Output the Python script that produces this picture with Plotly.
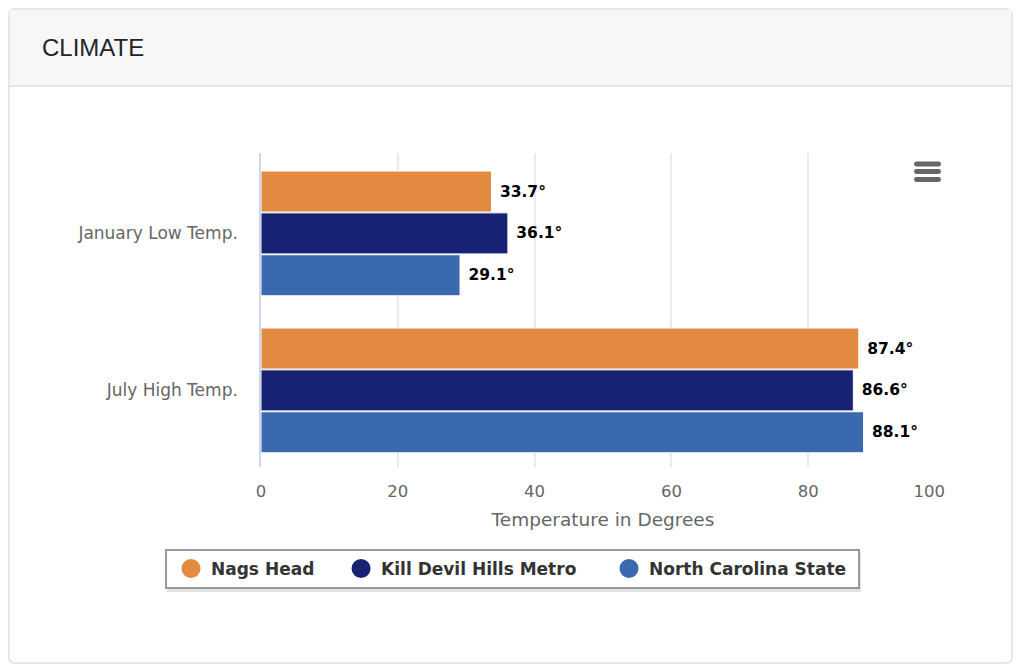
import plotly.graph_objects as go

#page has 8px body margin, so the figure is 1016x663 inside the 1024x671 window
PAGE_W = 1024
PAGE_H = 671
OFFSET = 8

categories = ["January Low Temp.", "July High Temp."]
nags_head = [33.7, 87.4]
kill_devil = [36.1, 86.6]
nc_state = [29.1, 88.1]
series_names = ["Nags Head", "Kill Devil Hills Metro", "North Carolina State"]
series_colors = ["#e28a40", "#172274", "#3b69b0"]
x_ticks = [0, 20, 40, 60, 80, 100]
#last label sits left of its gridline in the original
x_tick_text = ["0", "20", "40", "60", "80", "100" + "\u00a0" * 6]

FONT = "DejaVu Sans"
NBSP = "\u00a0"


#page pixels -> paper coords of the plot area
L, R, T, B = 261, 945, 153, 467
def px_x(v):
    return (v - L) / (R - L)
def px_y(v):
    return (B - v) / (B - T)


def box(x0, y0, x1, y1, **kw):
    return dict(type="rect", xref="paper", yref="paper", layer="below",
                x0=px_x(x0), x1=px_x(x1), y0=px_y(y0), y1=px_y(y1), **kw)


def rounded(x0, y0, x1, y1, r):
    a, b, c, d = px_x(x0), px_x(x1), px_y(y0), px_y(y1)
    rx = r / (R - L)
    ry = r / (B - T)
    return (f"M {a+rx} {c} L {b-rx} {c} Q {b} {c} {b} {c-ry} L {b} {d+ry} Q {b} {d} {b-rx} {d} "
            f"L {a+rx} {d} Q {a} {d} {a} {d+ry} L {a} {c-ry} Q {a} {c} {a+rx} {c} Z")


fig = go.Figure()

#bars, legend comes from the dummy traces below so it gets circles
for name, vals, col in zip(series_names, [nags_head, kill_devil, nc_state], series_colors):
    fig.add_trace(go.Bar(
        y=categories, x=vals, name=name, orientation="h",
        marker=dict(color=col, line=dict(color="white", width=1)),
        text=[f"{NBSP}{v}°" for v in vals], textposition="outside",
        textfont=dict(family=FONT, size=15.5, color="black", weight="bold"),
        cliponaxis=False, showlegend=False,
    ))

legend_pad = [3, 4, 1]
for name, col, pad in zip(series_names, series_colors, legend_pad):
    fig.add_trace(go.Scatter(
        x=[None], y=[None], mode="markers", name=name + NBSP * pad,
        marker=dict(color=col, size=16, symbol="circle", line=dict(color=col, width=3)),
    ))

shapes = [
    dict(type="path", path=rounded(9, 9, 1012, 663, 6), xref="paper", yref="paper",
         layer="below", fillcolor="white", line=dict(color="#dfdfdf", width=1.5)),
    box(10, 10, 1011, 86, fillcolor="#f7f7f7", line=dict(width=0)),
    dict(type="line", xref="paper", yref="paper", layer="below", x0=px_x(9), x1=px_x(1012),
         y0=px_y(86), y1=px_y(86), line=dict(color="#dfdfdf", width=1.5)),
    #legend shadow
    box(167, 552, 861, 592, fillcolor="#e2e2e2", line=dict(width=0)),
]
#menu icon
for y_mid in [164, 171.5, 179.5]:
    shapes.append(dict(type="path", path=rounded(914, y_mid - 2.4, 941, y_mid + 2.4, 2.4),
                       xref="paper", yref="paper", layer="above",
                       fillcolor="#666666", line=dict(width=0)))

fig.update_layout(
    width=PAGE_W - OFFSET, height=PAGE_H - OFFSET,
    margin=dict(l=L - OFFSET, r=PAGE_W - R, t=T - OFFSET, b=PAGE_H - B),
    paper_bgcolor="white", plot_bgcolor="white",
    font=dict(family=FONT, color="#666666", size=15),
    barmode="group", bargap=0.2, bargroupgap=0.02,
    shapes=shapes,
    xaxis=dict(range=[0, 100], tickvals=x_ticks, ticktext=x_tick_text, showgrid=True,
               gridcolor="#e9e9ec", gridwidth=1.5,
               zeroline=False, showline=False, ticks="", ticklabelstandoff=12,
               tickfont=dict(size=16.5, color="#666666"),
               title=dict(text="Temperature in Degrees", standoff=13, font=dict(size=18.5, color="#666666"))),
    yaxis=dict(range=[1.488, -0.512], showline=True, linecolor="#ccd6eb", linewidth=1.5,
               showgrid=False, ticks="", ticklabelstandoff=18,
               tickfont=dict(size=17, color="#666666")),
    legend=dict(orientation="h", x=px_x(165), y=px_y(549), xanchor="left", yanchor="top",
                bgcolor="white", bordercolor="#999999", borderwidth=2, indentation=4,
                font=dict(family=FONT, size=17, color="#333333", weight="bold"),
                itemsizing="trace", traceorder="normal"),
    annotations=[dict(text="CLIMATE", xref="paper", yref="paper", x=px_x(40), y=px_y(48),
                      xanchor="left", yanchor="middle", showarrow=False,
                      font=dict(family="Liberation Sans", size=24, color="#212529"))],
)

fig.write_html("out.html")
